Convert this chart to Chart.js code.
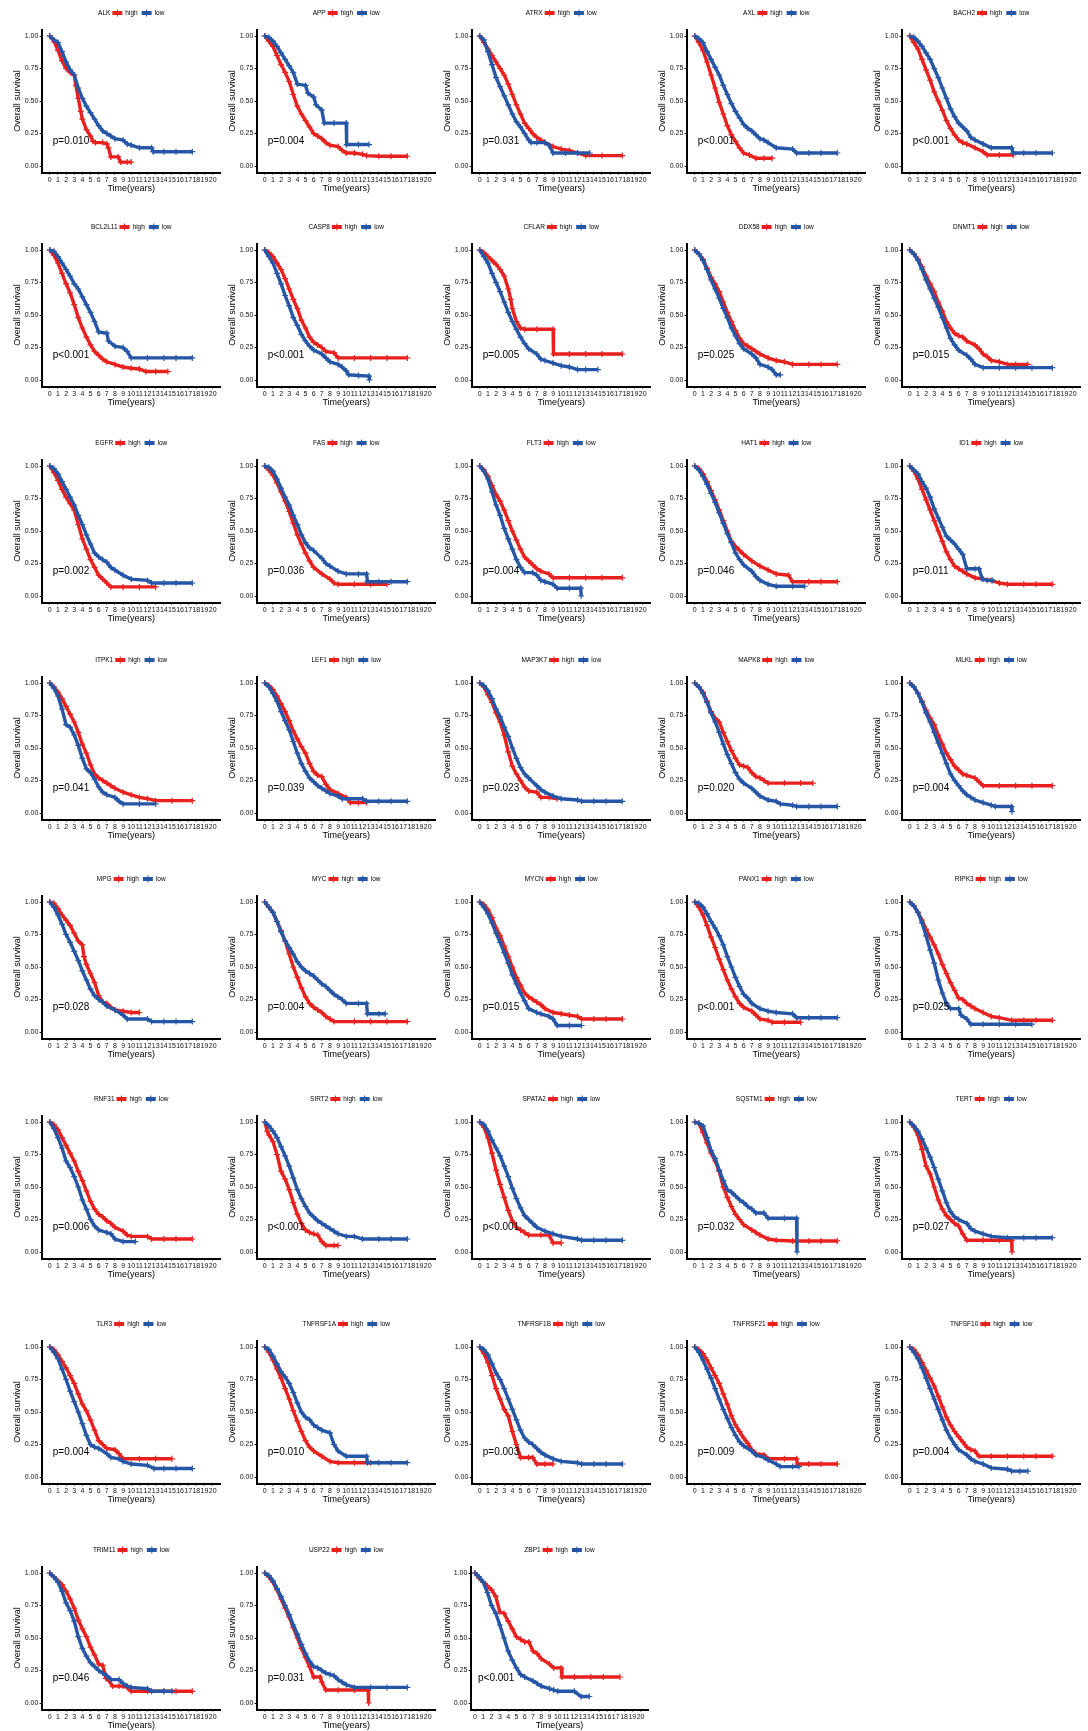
<!DOCTYPE html>
<html>
<head>
<meta charset="utf-8">
<script src="https://cdn.jsdelivr.net/npm/chart.js@4.4.1/dist/chart.umd.min.js"></script>
<style>
  html, body { margin: 0; padding: 0; background: #fff; }
  #grid { position: relative; width: 1088px; height: 1731px; overflow: hidden; }
  #grid canvas { position: absolute; }
</style>
</head>
<body>
<div id="grid"></div>
<script>
// Kaplan-Meier curves: [time (years), survival]
const ALK_high = [[0,1],[0.3,0.98],[0.6,0.95],[1,0.89],[1.5,0.81],[2,0.75],[2.5,0.72],[3,0.70],[3.2,0.62],[3.5,0.52],[3.8,0.42],[4,0.36],[4.5,0.28],[5,0.23],[5.3,0.19],[5.6,0.18],[6.5,0.18],[7,0.17],[7.2,0.14],[7.5,0.07],[8.4,0.07],[8.7,0.03],[9.5,0.03],[10,0.03]];
const ALK_low = [[0,1],[0.5,0.97],[1,0.95],[1.5,0.88],[2,0.80],[2.5,0.74],[3,0.70],[3.5,0.60],[4,0.52],[4.5,0.46],[5,0.41],[5.5,0.36],[6,0.31],[6.5,0.27],[7,0.25],[7.5,0.23],[8,0.21],[9,0.20],[9.5,0.17],[10,0.16],[11,0.14],[12.5,0.14],[12.7,0.11],[14,0.11],[15.5,0.11],[17.5,0.11]];
const APP_high = [[0,1],[0.5,0.96],[1,0.92],[1.5,0.85],[2,0.78],[2.5,0.72],[3,0.65],[3.5,0.55],[4,0.46],[4.5,0.40],[5,0.35],[5.5,0.30],[6,0.25],[6.5,0.23],[7,0.21],[7.5,0.18],[8,0.16],[9,0.15],[9.5,0.12],[10,0.10],[11,0.10],[12,0.09],[12.5,0.08],[14,0.075],[15.5,0.075],[17.5,0.075]];
const APP_low = [[0,1],[0.5,0.99],[1,0.96],[1.5,0.92],[2,0.87],[2.5,0.82],[3,0.77],[3.5,0.72],[4,0.63],[5,0.62],[5.3,0.56],[6,0.53],[6.3,0.47],[7,0.43],[7.3,0.33],[8.5,0.33],[10,0.33],[10.05,0.165],[11.5,0.165],[12.8,0.165]];
const ATRX_high = [[0,1],[0.5,0.95],[1,0.90],[1.5,0.85],[2,0.80],[2.5,0.75],[3,0.70],[3.5,0.63],[4,0.55],[4.5,0.47],[5,0.40],[5.5,0.33],[6,0.29],[6.5,0.25],[7,0.22],[7.5,0.20],[8,0.18],[9,0.15],[10,0.13],[11,0.12],[12,0.10],[13,0.08],[15,0.08],[17.5,0.08]];
const ATRX_low = [[0,1],[0.5,0.97],[1,0.88],[1.5,0.78],[2,0.68],[2.5,0.61],[3,0.54],[3.5,0.47],[4,0.40],[4.5,0.34],[5,0.30],[5.5,0.25],[6,0.20],[6.3,0.18],[7,0.18],[8,0.18],[8.5,0.16],[9,0.10],[10.5,0.10],[12,0.10],[13.5,0.10]];
const AXL_high = [[0,1],[0.5,0.95],[1,0.89],[1.5,0.80],[2,0.70],[2.5,0.60],[3,0.49],[3.5,0.40],[4,0.31],[4.5,0.24],[5,0.19],[5.5,0.14],[6,0.10],[6.7,0.085],[7.5,0.06],[8.5,0.06],[9.5,0.06]];
const AXL_low = [[0,1],[0.5,0.98],[1,0.95],[1.5,0.88],[2,0.82],[2.5,0.76],[3,0.70],[3.5,0.62],[4,0.55],[4.5,0.48],[5,0.42],[5.5,0.37],[6,0.32],[6.5,0.29],[7,0.27],[7.5,0.24],[8,0.21],[8.5,0.20],[9,0.18],[10,0.14],[12,0.13],[12.5,0.10],[14,0.10],[15.5,0.10],[17.5,0.10]];
const BACH2_high = [[0,1],[0.5,0.95],[1,0.90],[1.5,0.82],[2,0.74],[2.5,0.66],[3,0.57],[3.5,0.50],[4,0.43],[4.5,0.35],[5,0.29],[5.5,0.24],[6,0.20],[6.5,0.18],[7,0.17],[8,0.14],[9,0.11],[9.5,0.085],[11,0.085],[12.7,0.085]];
const BACH2_low = [[0,1],[0.5,0.99],[1,0.96],[1.5,0.92],[2,0.87],[2.5,0.82],[3,0.75],[3.5,0.68],[4,0.60],[4.5,0.52],[5,0.44],[5.5,0.38],[6,0.33],[6.5,0.30],[7,0.27],[7.5,0.22],[8,0.20],[9,0.17],[10,0.14],[12.5,0.14],[12.7,0.10],[14,0.10],[15.5,0.10],[17.5,0.10]];
const BCL2L11_high = [[0,1],[0.5,0.96],[1,0.90],[1.5,0.82],[2,0.74],[2.5,0.67],[3,0.58],[3.5,0.48],[4,0.40],[4.5,0.33],[5,0.27],[5.5,0.22],[6,0.19],[6.5,0.16],[7,0.14],[8,0.12],[9,0.10],[10,0.09],[11,0.085],[11.8,0.065],[13,0.065],[14.5,0.065]];
const BCL2L11_low = [[0,1],[0.5,0.99],[1,0.95],[1.5,0.90],[2,0.85],[2.5,0.80],[3,0.74],[3.5,0.70],[4,0.64],[4.5,0.58],[5,0.52],[5.5,0.45],[6,0.37],[7,0.36],[7.2,0.30],[8,0.26],[9,0.25],[9.5,0.22],[10,0.17],[12,0.17],[14,0.17],[15.5,0.17],[17.5,0.17]];
const CASP8_high = [[0,1],[0.5,0.98],[1,0.95],[1.5,0.90],[2,0.85],[2.5,0.78],[3,0.70],[3.5,0.62],[4,0.55],[4.5,0.46],[5,0.40],[5.5,0.33],[6,0.29],[6.5,0.27],[7,0.25],[7.5,0.22],[8.5,0.21],[9,0.17],[11,0.17],[13,0.17],[15,0.17],[17.5,0.17]];
const CASP8_low = [[0,1],[0.5,0.95],[1,0.90],[1.5,0.82],[2,0.74],[2.5,0.65],[3,0.57],[3.5,0.48],[4,0.42],[4.5,0.35],[5,0.30],[5.5,0.26],[6,0.23],[7,0.20],[7.5,0.17],[8,0.14],[9,0.12],[9.5,0.10],[10,0.07],[10.3,0.04],[11.5,0.035],[12.8,0.03],[12.85,0]];
const CFLAR_high = [[0,1],[0.5,0.98],[1,0.95],[1.5,0.92],[2,0.89],[2.5,0.85],[3,0.80],[3.5,0.70],[3.8,0.62],[4,0.55],[4.5,0.45],[5,0.40],[5.5,0.39],[7,0.39],[9,0.39],[9.05,0.20],[11,0.20],[13,0.20],[15,0.20],[17.5,0.20]];
const CFLAR_low = [[0,1],[0.5,0.95],[1,0.90],[1.5,0.82],[2,0.75],[2.5,0.68],[3,0.60],[3.5,0.52],[4,0.45],[4.5,0.39],[5,0.33],[5.5,0.28],[6,0.24],[7,0.20],[7.5,0.16],[8,0.15],[9,0.13],[10,0.11],[11,0.10],[12,0.08],[13,0.08],[14.5,0.08]];
const DDX58_high = [[0,1],[0.5,0.97],[1,0.93],[1.5,0.86],[2,0.79],[2.5,0.74],[3,0.68],[3.5,0.60],[4,0.52],[4.5,0.45],[5,0.38],[5.5,0.32],[6,0.28],[6.5,0.26],[7,0.24],[7.5,0.22],[8,0.20],[9,0.17],[10,0.15],[11,0.14],[12,0.12],[14,0.12],[15.5,0.12],[17.5,0.12]];
const DDX58_low = [[0,1],[0.5,0.97],[1,0.92],[1.5,0.85],[2,0.77],[2.5,0.70],[3,0.63],[3.5,0.55],[4,0.48],[4.5,0.40],[5,0.34],[5.5,0.28],[6,0.24],[7,0.20],[7.5,0.17],[8,0.12],[9,0.10],[9.5,0.08],[10,0.04],[10.5,0.04]];
const DNMT1_high = [[0,1],[0.5,0.97],[1,0.93],[1.5,0.87],[2,0.80],[2.5,0.74],[3,0.68],[3.5,0.60],[4,0.53],[4.5,0.45],[5,0.40],[5.5,0.36],[6,0.34],[6.5,0.33],[7,0.30],[8,0.27],[8.5,0.24],[9,0.20],[9.5,0.18],[10,0.15],[11,0.14],[12,0.12],[13,0.12],[14.5,0.12]];
const DNMT1_low = [[0,1],[0.5,0.97],[1,0.92],[1.5,0.85],[2,0.77],[2.5,0.70],[3,0.63],[3.5,0.56],[4,0.48],[4.5,0.40],[5,0.32],[5.5,0.27],[6,0.23],[7,0.19],[7.5,0.16],[8,0.12],[9,0.095],[11,0.095],[13,0.095],[15,0.095],[17.5,0.095]];
const EGFR_high = [[0,1],[0.5,0.95],[1,0.89],[1.5,0.82],[2,0.76],[2.5,0.71],[3,0.66],[3.5,0.55],[4,0.44],[4.5,0.36],[5,0.28],[5.5,0.22],[6,0.16],[6.5,0.13],[7,0.10],[7.5,0.07],[9,0.07],[11,0.07],[13,0.07]];
const EGFR_low = [[0,1],[0.5,0.98],[1,0.94],[1.5,0.88],[2,0.82],[2.5,0.76],[3,0.70],[3.5,0.62],[4,0.55],[4.5,0.47],[5,0.40],[5.5,0.33],[6,0.30],[6.5,0.28],[7,0.26],[7.5,0.22],[8,0.20],[9,0.16],[10,0.13],[12,0.12],[12.5,0.10],[14,0.10],[15.5,0.10],[17.5,0.10]];
const FAS_high = [[0,1],[0.5,0.97],[1,0.93],[1.5,0.87],[2,0.80],[2.5,0.73],[3,0.65],[3.5,0.56],[4,0.47],[4.5,0.40],[5,0.33],[5.5,0.27],[6,0.22],[7,0.17],[8,0.13],[8.5,0.10],[9,0.09],[11,0.09],[13,0.09],[15,0.09]];
const FAS_low = [[0,1],[0.5,0.99],[1,0.96],[1.5,0.90],[2,0.83],[2.5,0.76],[3,0.70],[3.5,0.62],[4,0.55],[4.5,0.47],[5,0.41],[5.5,0.37],[6,0.35],[7,0.29],[7.5,0.25],[8,0.23],[9,0.19],[10,0.17],[11.5,0.17],[12.5,0.17],[12.6,0.11],[14,0.11],[15.5,0.11],[17.5,0.11]];
const FLT3_high = [[0,1],[0.5,0.97],[1,0.92],[1.5,0.85],[2,0.78],[2.5,0.73],[3,0.66],[3.5,0.58],[4,0.50],[4.5,0.43],[5,0.36],[5.5,0.30],[6,0.27],[6.5,0.24],[7,0.21],[7.5,0.19],[8.5,0.17],[9,0.14],[11,0.14],[13,0.14],[15,0.14],[17.5,0.14]];
const FLT3_low = [[0,1],[0.5,0.96],[1,0.90],[1.5,0.80],[2,0.70],[2.5,0.62],[3,0.52],[3.5,0.44],[4,0.36],[4.5,0.28],[5,0.22],[5.5,0.18],[6.5,0.18],[7,0.16],[7.5,0.12],[8,0.11],[9,0.09],[9.5,0.06],[11,0.06],[12.4,0.06],[12.45,0]];
const HAT1_high = [[0,1],[0.5,0.98],[1,0.94],[1.5,0.88],[2,0.81],[2.5,0.74],[3,0.66],[3.5,0.58],[4,0.50],[4.5,0.42],[5,0.38],[5.5,0.35],[6,0.32],[7,0.27],[8,0.23],[9,0.20],[10,0.17],[11.5,0.16],[12,0.11],[14,0.11],[15.5,0.11],[17.5,0.11]];
const HAT1_low = [[0,1],[0.5,0.97],[1,0.92],[1.5,0.86],[2,0.79],[2.5,0.72],[3,0.64],[3.5,0.56],[4,0.48],[4.5,0.41],[5,0.33],[5.5,0.28],[6,0.24],[7,0.19],[7.5,0.15],[8,0.12],[9,0.09],[10,0.075],[12,0.075],[13.5,0.075]];
const ID1_high = [[0,1],[0.5,0.96],[1,0.90],[1.5,0.82],[2,0.74],[2.5,0.66],[3,0.58],[3.5,0.50],[4,0.42],[4.5,0.34],[5,0.28],[5.5,0.23],[6,0.21],[6.5,0.19],[7,0.17],[8,0.14],[9,0.13],[10,0.12],[11,0.10],[12,0.09],[14,0.09],[15.5,0.09],[17.5,0.09]];
const ID1_low = [[0,1],[0.5,0.97],[1,0.94],[1.5,0.88],[2,0.83],[2.5,0.76],[3,0.67],[3.5,0.60],[4,0.53],[4.5,0.46],[5,0.43],[5.5,0.40],[6,0.36],[6.5,0.32],[7,0.21],[8,0.21],[8.5,0.21],[8.9,0.13],[9.5,0.12],[10.2,0.12]];
const ITPK1_high = [[0,1],[0.5,0.97],[1,0.93],[1.5,0.88],[2,0.82],[2.5,0.76],[3,0.70],[3.5,0.62],[4,0.53],[4.5,0.46],[5,0.37],[5.5,0.30],[6,0.27],[6.5,0.25],[7,0.23],[7.5,0.21],[8,0.19],[9,0.16],[10,0.14],[11,0.12],[12,0.11],[13,0.095],[15,0.095],[17.5,0.095]];
const ITPK1_low = [[0,1],[0.5,0.96],[1,0.90],[1.5,0.80],[2,0.68],[2.5,0.66],[3,0.60],[3.5,0.52],[4,0.42],[4.5,0.34],[5,0.31],[5.5,0.26],[6,0.20],[6.5,0.16],[7,0.14],[8,0.12],[8.5,0.09],[9,0.07],[11,0.07],[13,0.07]];
const LEF1_high = [[0,1],[0.5,0.98],[1,0.95],[1.5,0.90],[2,0.84],[2.5,0.78],[3,0.71],[3.5,0.63],[4,0.57],[4.5,0.51],[5,0.46],[5.5,0.38],[6,0.32],[6.5,0.29],[7,0.28],[7.5,0.22],[8,0.18],[9,0.15],[10,0.12],[10.5,0.08],[11.5,0.08],[12.5,0.08]];
const LEF1_low = [[0,1],[0.5,0.97],[1,0.92],[1.5,0.86],[2,0.78],[2.5,0.71],[3,0.64],[3.5,0.55],[4,0.46],[4.5,0.38],[5,0.32],[5.5,0.27],[6,0.24],[6.5,0.21],[7,0.19],[7.5,0.17],[8,0.15],[9,0.13],[9.5,0.11],[12,0.11],[12.5,0.09],[14,0.09],[15.5,0.09],[17.5,0.09]];
const MAP3K7_high = [[0,1],[0.5,0.97],[1,0.91],[1.5,0.85],[2,0.77],[2.5,0.70],[3,0.60],[3.5,0.47],[4,0.36],[4.5,0.30],[5,0.25],[5.5,0.20],[6,0.17],[7,0.16],[7.5,0.12],[8.5,0.12],[9.5,0.11]];
const MAP3K7_low = [[0,1],[0.5,0.98],[1,0.94],[1.5,0.88],[2,0.80],[2.5,0.74],[3,0.66],[3.5,0.59],[4,0.50],[4.5,0.42],[5,0.35],[5.5,0.30],[6,0.27],[7,0.21],[7.5,0.18],[8,0.16],[9,0.13],[10,0.11],[12,0.10],[12.5,0.09],[14,0.09],[15.5,0.09],[17.5,0.09]];
const MAPK8_high = [[0,1],[0.5,0.97],[1,0.93],[1.5,0.86],[2,0.78],[2.5,0.73],[3,0.70],[3.5,0.62],[4,0.55],[4.5,0.48],[5,0.42],[5.5,0.37],[6,0.36],[6.5,0.35],[7,0.31],[7.5,0.28],[8,0.27],[8.5,0.25],[9,0.23],[11,0.23],[13,0.23],[14.5,0.23]];
const MAPK8_low = [[0,1],[0.5,0.97],[1,0.92],[1.5,0.85],[2,0.77],[2.5,0.70],[3,0.62],[3.5,0.53],[4,0.45],[4.5,0.38],[5,0.31],[5.5,0.26],[6,0.23],[7,0.19],[7.5,0.16],[8,0.13],[9,0.10],[10,0.09],[10.5,0.07],[12,0.06],[12.5,0.05],[14,0.05],[15.5,0.05],[17.5,0.05]];
const MLKL_high = [[0,1],[0.5,0.97],[1,0.92],[1.5,0.86],[2,0.79],[2.5,0.73],[3,0.68],[3.5,0.60],[4,0.53],[4.5,0.46],[5,0.41],[5.5,0.36],[6,0.33],[6.5,0.30],[7,0.29],[8,0.27],[8.5,0.24],[9,0.21],[11,0.21],[13,0.21],[15,0.21],[17.5,0.21]];
const MLKL_low = [[0,1],[0.5,0.97],[1,0.92],[1.5,0.85],[2,0.77],[2.5,0.70],[3,0.62],[3.5,0.54],[4,0.46],[4.5,0.38],[5,0.30],[5.5,0.25],[6,0.21],[6.5,0.17],[7,0.14],[7.5,0.12],[8,0.10],[9,0.08],[10,0.06],[10.5,0.05],[12.5,0.05],[12.55,0.01]];
const MPG_high = [[0,1],[0.5,0.99],[1,0.95],[1.5,0.90],[2,0.86],[2.5,0.82],[3,0.76],[3.5,0.70],[4,0.67],[4.2,0.58],[4.5,0.52],[5,0.45],[5.5,0.38],[6,0.28],[6.5,0.23],[7,0.22],[7.5,0.19],[8,0.17],[9,0.16],[10,0.15],[11,0.15]];
const MPG_low = [[0,1],[0.5,0.96],[1,0.90],[1.5,0.83],[2,0.75],[2.5,0.69],[3,0.62],[3.5,0.55],[4,0.47],[4.5,0.40],[5,0.33],[5.5,0.28],[6,0.25],[6.5,0.23],[7,0.20],[8,0.17],[9,0.13],[9.5,0.10],[12,0.10],[12.5,0.08],[14,0.08],[15.5,0.08],[17.5,0.08]];
const MYC_high = [[0,1],[0.5,0.96],[1,0.92],[1.5,0.85],[2,0.78],[2.5,0.70],[3,0.60],[3.5,0.50],[4,0.42],[4.5,0.34],[5,0.27],[5.5,0.22],[6,0.19],[6.5,0.17],[7,0.15],[7.5,0.12],[8,0.10],[8.5,0.08],[11,0.08],[13,0.08],[15,0.08],[17.5,0.08]];
const MYC_low = [[0,1],[0.5,0.96],[1,0.92],[1.5,0.85],[2,0.77],[2.5,0.70],[3,0.65],[3.5,0.60],[4,0.54],[4.5,0.50],[5,0.47],[5.5,0.45],[6,0.43],[6.5,0.40],[7,0.37],[7.5,0.35],[8,0.32],[8.5,0.29],[9,0.27],[9.5,0.25],[10,0.22],[11.5,0.22],[12.5,0.22],[12.6,0.14],[14,0.14],[14.8,0.14]];
const MYCN_high = [[0,1],[0.5,0.98],[1,0.94],[1.5,0.88],[2,0.80],[2.5,0.74],[3,0.66],[3.5,0.58],[4,0.50],[4.5,0.42],[5,0.36],[5.5,0.30],[6,0.27],[6.5,0.25],[7,0.23],[7.5,0.21],[8,0.18],[9,0.15],[10,0.14],[11,0.13],[12,0.12],[12.5,0.10],[14,0.10],[15.5,0.10],[17.5,0.10]];
const MYCN_low = [[0,1],[0.5,0.96],[1,0.91],[1.5,0.84],[2,0.76],[2.5,0.69],[3,0.61],[3.5,0.53],[4,0.44],[4.5,0.37],[5,0.30],[5.5,0.24],[6,0.18],[7,0.15],[7.5,0.14],[8.5,0.12],[9,0.10],[9.5,0.05],[11,0.05],[12.5,0.05]];
const PANX1_high = [[0,1],[0.5,0.96],[1,0.90],[1.5,0.82],[2,0.73],[2.5,0.65],[3,0.56],[3.5,0.48],[4,0.40],[4.5,0.33],[5,0.27],[5.5,0.22],[6,0.19],[7,0.16],[7.5,0.13],[8,0.10],[9,0.09],[9.5,0.075],[11,0.075],[13,0.075]];
const PANX1_low = [[0,1],[0.5,0.99],[1,0.96],[1.5,0.91],[2,0.85],[2.5,0.80],[3,0.74],[3.5,0.67],[4,0.58],[4.5,0.50],[5,0.42],[5.5,0.35],[6,0.29],[6.5,0.26],[7,0.22],[8,0.18],[9,0.16],[10,0.15],[12,0.14],[12.5,0.11],[14,0.11],[15.5,0.11],[17.5,0.11]];
const RIPK3_high = [[0,1],[0.5,0.97],[1,0.92],[1.5,0.86],[2,0.79],[2.5,0.73],[3,0.67],[3.5,0.60],[4,0.52],[4.5,0.45],[5,0.38],[5.5,0.32],[6,0.26],[6.5,0.25],[7,0.22],[7.5,0.20],[8,0.18],[9,0.15],[10,0.12],[11,0.11],[12.5,0.09],[14,0.09],[15.5,0.09],[17.5,0.09]];
const RIPK3_low = [[0,1],[0.5,0.97],[1,0.92],[1.5,0.84],[2,0.74],[2.5,0.63],[3,0.53],[3.5,0.40],[4,0.30],[4.5,0.22],[5,0.18],[6,0.18],[6.3,0.13],[7,0.10],[7.5,0.06],[9,0.06],[11,0.06],[13,0.06],[15,0.06]];
const RNF31_high = [[0,1],[0.5,0.98],[1,0.94],[1.5,0.88],[2,0.82],[2.5,0.76],[3,0.70],[3.5,0.62],[4,0.55],[4.5,0.47],[5,0.39],[5.5,0.33],[6,0.29],[6.5,0.27],[7,0.24],[7.5,0.22],[8,0.19],[9,0.16],[9.5,0.13],[10,0.12],[12,0.12],[12.5,0.10],[14,0.10],[15.5,0.10],[17.5,0.10]];
const RNF31_low = [[0,1],[0.5,0.95],[1,0.88],[1.5,0.80],[2,0.70],[2.5,0.65],[3,0.58],[3.5,0.50],[4,0.40],[4.5,0.33],[5,0.25],[5.5,0.20],[6,0.17],[7,0.15],[7.5,0.14],[8,0.10],[9,0.08],[10.5,0.08]];
const SIRT2_high = [[0,1],[0.3,0.93],[0.5,0.90],[1,0.85],[1.5,0.75],[2,0.62],[2.5,0.56],[3,0.48],[3.5,0.38],[4,0.29],[4.5,0.22],[5,0.17],[5.5,0.15],[6,0.14],[6.5,0.13],[7,0.08],[7.5,0.05],[8.5,0.05],[9,0.05]];
const SIRT2_low = [[0,1],[0.5,0.97],[1,0.93],[1.5,0.88],[2,0.81],[2.5,0.74],[3,0.66],[3.5,0.57],[4,0.48],[4.5,0.41],[5,0.35],[5.5,0.30],[6,0.27],[6.5,0.24],[7,0.22],[7.5,0.20],[8,0.18],[8.5,0.16],[9,0.14],[10,0.12],[11,0.12],[12,0.10],[14,0.10],[15.5,0.10],[17.5,0.10]];
const SPATA2_high = [[0,1],[0.5,0.96],[1,0.88],[1.5,0.76],[2,0.63],[2.5,0.52],[3,0.42],[3.5,0.32],[4,0.24],[4.5,0.19],[5,0.17],[5.5,0.15],[6,0.13],[7.5,0.13],[8.5,0.13],[9,0.07],[10,0.07]];
const SPATA2_low = [[0,1],[0.5,0.98],[1,0.93],[1.5,0.86],[2,0.80],[2.5,0.74],[3,0.66],[3.5,0.58],[4,0.49],[4.5,0.41],[5,0.34],[5.5,0.28],[6,0.25],[6.5,0.22],[7,0.19],[8,0.16],[9,0.14],[10,0.12],[12,0.10],[12.5,0.09],[14,0.09],[15.5,0.09],[17.5,0.09]];
const SQSTM1_high = [[0,1],[0.5,0.99],[1,0.92],[1.5,0.84],[2,0.76],[2.5,0.70],[3,0.62],[3.5,0.50],[4,0.42],[4.5,0.35],[5,0.29],[5.5,0.25],[6,0.21],[7,0.17],[7.5,0.15],[8,0.13],[9,0.10],[10,0.09],[12,0.085],[14,0.085],[15.5,0.085],[17.5,0.085]];
const SQSTM1_low = [[0,1],[0.5,0.99],[1,0.97],[1.5,0.88],[2,0.78],[2.5,0.72],[3,0.63],[3.5,0.55],[4,0.48],[4.5,0.46],[5,0.43],[5.5,0.40],[6,0.38],[6.5,0.35],[7,0.33],[7.5,0.30],[8.5,0.30],[9,0.26],[11,0.26],[12.5,0.26],[12.55,0]];
const TERT_high = [[0,1],[0.5,0.96],[1,0.90],[1.5,0.79],[2,0.66],[2.5,0.60],[3,0.50],[3.5,0.40],[4,0.33],[4.5,0.28],[5,0.25],[5.5,0.22],[6,0.20],[6.5,0.14],[7,0.09],[9,0.09],[11,0.09],[12.5,0.09],[12.55,0]];
const TERT_low = [[0,1],[0.5,0.97],[1,0.93],[1.5,0.87],[2,0.80],[2.5,0.73],[3,0.65],[3.5,0.56],[4,0.47],[4.5,0.38],[5,0.31],[5.5,0.27],[6,0.25],[7,0.22],[7.5,0.18],[8,0.16],[9,0.14],[10,0.12],[12,0.11],[14,0.11],[15.5,0.11],[17.5,0.11]];
const TLR3_high = [[0,1],[0.5,0.98],[1,0.94],[1.5,0.89],[2,0.84],[2.5,0.78],[3,0.72],[3.5,0.64],[4,0.56],[4.5,0.51],[5,0.44],[5.5,0.36],[6,0.28],[6.5,0.25],[7,0.22],[8,0.21],[8.5,0.18],[9,0.14],[11,0.14],[13,0.14],[15,0.14]];
const TLR3_low = [[0,1],[0.5,0.96],[1,0.91],[1.5,0.83],[2,0.75],[2.5,0.66],[3,0.58],[3.5,0.50],[4,0.41],[4.5,0.32],[5,0.25],[5.5,0.23],[6,0.22],[7,0.18],[7.5,0.15],[8.5,0.14],[9,0.12],[10,0.10],[12,0.09],[12.8,0.065],[14,0.065],[15.5,0.065],[17.5,0.065]];
const TNFRSF1A_high = [[0,1],[0.5,0.96],[1,0.90],[1.5,0.83],[2,0.76],[2.5,0.68],[3,0.60],[3.5,0.51],[4,0.43],[4.5,0.35],[5,0.28],[5.5,0.23],[6,0.20],[7,0.16],[8,0.12],[9,0.11],[11,0.11],[13,0.11]];
const TNFRSF1A_low = [[0,1],[0.5,0.98],[1,0.93],[1.5,0.87],[2,0.81],[2.5,0.77],[3,0.72],[3.5,0.65],[4,0.57],[4.5,0.50],[5,0.46],[5.5,0.44],[6,0.40],[6.5,0.38],[7,0.36],[8,0.34],[8.5,0.25],[9,0.20],[10,0.16],[12.5,0.16],[12.6,0.11],[14,0.11],[15.5,0.11],[17.5,0.11]];
const TNFRSF1B_high = [[0,1],[0.5,0.95],[1,0.88],[1.5,0.78],[2,0.68],[2.5,0.60],[3,0.52],[3.5,0.47],[4,0.35],[4.5,0.25],[5,0.15],[6,0.15],[6.5,0.15],[7,0.10],[8,0.10],[9,0.10]];
const TNFRSF1B_low = [[0,1],[0.5,0.98],[1,0.94],[1.5,0.87],[2,0.80],[2.5,0.75],[3,0.68],[3.5,0.60],[4,0.52],[4.5,0.44],[5,0.36],[5.5,0.30],[6,0.27],[6.5,0.25],[7,0.22],[7.5,0.19],[8,0.17],[9,0.14],[10,0.12],[12,0.11],[12.5,0.10],[14,0.10],[15.5,0.10],[17.5,0.10]];
const TNFRSF21_high = [[0,1],[0.5,0.98],[1,0.95],[1.5,0.90],[2,0.84],[2.5,0.78],[3,0.72],[3.5,0.64],[4,0.56],[4.5,0.47],[5,0.40],[5.5,0.35],[6,0.30],[6.5,0.26],[7,0.21],[7.5,0.18],[8.5,0.17],[9,0.14],[11,0.14],[12.5,0.14],[12.6,0.10],[14,0.10],[15.5,0.10],[17.5,0.10]];
const TNFRSF21_low = [[0,1],[0.5,0.96],[1,0.90],[1.5,0.83],[2,0.76],[2.5,0.68],[3,0.60],[3.5,0.52],[4,0.45],[4.5,0.38],[5,0.32],[5.5,0.27],[6,0.24],[7,0.20],[7.5,0.17],[8.5,0.15],[9,0.13],[10,0.10],[10.5,0.08],[12,0.08],[12.8,0.08]];
const TNFSF10_high = [[0,1],[0.5,0.98],[1,0.94],[1.5,0.88],[2,0.82],[2.5,0.76],[3,0.70],[3.5,0.62],[4,0.54],[4.5,0.46],[5,0.40],[5.5,0.35],[6,0.31],[6.5,0.27],[7,0.23],[7.5,0.21],[8,0.20],[8.5,0.16],[10,0.16],[12,0.16],[14,0.16],[15.5,0.16],[17.5,0.16]];
const TNFSF10_low = [[0,1],[0.5,0.96],[1,0.91],[1.5,0.84],[2,0.76],[2.5,0.68],[3,0.60],[3.5,0.52],[4,0.44],[4.5,0.36],[5,0.30],[5.5,0.25],[6,0.21],[7,0.17],[7.5,0.14],[8,0.12],[9,0.10],[10,0.07],[12,0.06],[12.5,0.045],[13.5,0.045],[14.5,0.045]];
const TRIM11_high = [[0,1],[0.5,0.97],[1,0.94],[1.5,0.91],[2,0.86],[2.5,0.80],[3,0.73],[3.5,0.64],[4,0.57],[4.5,0.51],[5,0.43],[5.5,0.37],[6,0.30],[6.5,0.29],[6.9,0.19],[7.3,0.17],[7.7,0.13],[8.5,0.13],[9,0.13],[9.5,0.12],[10,0.09],[12,0.09],[14,0.09],[15.5,0.09],[17.5,0.09]];
const TRIM11_low = [[0,1],[0.5,0.97],[1,0.93],[1.5,0.86],[2,0.77],[2.5,0.71],[3,0.63],[3.5,0.51],[4,0.42],[4.5,0.36],[5,0.31],[5.5,0.28],[6,0.25],[6.5,0.23],[7,0.21],[7.5,0.18],[8.5,0.18],[9,0.15],[9.5,0.13],[10,0.12],[12,0.11],[12.5,0.09],[14,0.09],[15,0.09]];
const USP22_high = [[0,1],[0.5,0.97],[1,0.93],[1.5,0.87],[2,0.80],[2.5,0.73],[3,0.66],[3.5,0.58],[4,0.50],[4.5,0.42],[5,0.35],[5.5,0.28],[6,0.20],[6.8,0.20],[7,0.16],[7.5,0.10],[9,0.10],[11,0.10],[12.7,0.10],[12.75,0]];
const USP22_low = [[0,1],[0.5,0.98],[1,0.94],[1.5,0.88],[2,0.82],[2.5,0.75],[3,0.68],[3.5,0.60],[4,0.53],[4.5,0.45],[5,0.38],[5.5,0.32],[6,0.28],[6.5,0.27],[7,0.25],[7.5,0.23],[8,0.22],[8.5,0.21],[9,0.18],[9.5,0.16],[10,0.14],[11,0.12],[13,0.12],[15,0.12],[17.5,0.12]];
const ZBP1_high = [[0,1],[0.5,0.96],[1,0.93],[1.5,0.90],[2,0.87],[2.5,0.82],[3,0.70],[3.5,0.69],[4,0.63],[4.5,0.57],[5,0.51],[5.5,0.49],[6,0.47],[6.5,0.47],[7,0.40],[7.5,0.38],[8,0.34],[9,0.30],[9.5,0.27],[10.4,0.27],[10.5,0.20],[12,0.20],[14,0.20],[15.5,0.20],[17.5,0.20]];
const ZBP1_low = [[0,1],[0.5,0.97],[1,0.93],[1.5,0.85],[2,0.75],[2.5,0.69],[3,0.60],[3.5,0.50],[4,0.40],[4.5,0.33],[5,0.27],[5.5,0.22],[6,0.20],[7,0.17],[7.5,0.15],[8,0.13],[9,0.11],[9.5,0.10],[10,0.09],[12,0.09],[12.8,0.05],[13.8,0.05]];

const genes = ['ALK','APP','ATRX','AXL','BACH2','BCL2L11','CASP8','CFLAR','DDX58','DNMT1',
  'EGFR','FAS','FLT3','HAT1','ID1','ITPK1','LEF1','MAP3K7','MAPK8','MLKL',
  'MPG','MYC','MYCN','PANX1','RIPK3','RNF31','SIRT2','SPATA2','SQSTM1','TERT',
  'TLR3','TNFRSF1A','TNFRSF1B','TNFRSF21','TNFSF10','TRIM11','USP22','ZBP1'];
const pValues = ['p=0.010','p=0.004','p=0.031','p<0.001','p<0.001','p<0.001','p<0.001','p=0.005','p=0.025','p=0.015',
  'p=0.002','p=0.036','p=0.004','p=0.046','p=0.011','p=0.041','p=0.039','p=0.023','p=0.020','p=0.004',
  'p=0.028','p=0.004','p=0.015','p<0.001','p=0.025','p=0.006','p<0.001','p<0.001','p=0.032','p=0.027',
  'p=0.004','p=0.010','p=0.003','p=0.009','p=0.004','p=0.046','p=0.031','p<0.001'];
const groups = ['high', 'low'];
const xTicks = [0,1,2,3,4,5,6,7,8,9,10,11,12,13,14,15,16,17,18,19,20];
const yTicks = [0, 0.25, 0.5, 0.75, 1];

const curves = {
  ALK: [ALK_high, ALK_low], APP: [APP_high, APP_low], ATRX: [ATRX_high, ATRX_low],
  AXL: [AXL_high, AXL_low], BACH2: [BACH2_high, BACH2_low], BCL2L11: [BCL2L11_high, BCL2L11_low],
  CASP8: [CASP8_high, CASP8_low], CFLAR: [CFLAR_high, CFLAR_low], DDX58: [DDX58_high, DDX58_low],
  DNMT1: [DNMT1_high, DNMT1_low], EGFR: [EGFR_high, EGFR_low], FAS: [FAS_high, FAS_low],
  FLT3: [FLT3_high, FLT3_low], HAT1: [HAT1_high, HAT1_low], ID1: [ID1_high, ID1_low],
  ITPK1: [ITPK1_high, ITPK1_low], LEF1: [LEF1_high, LEF1_low], MAP3K7: [MAP3K7_high, MAP3K7_low],
  MAPK8: [MAPK8_high, MAPK8_low], MLKL: [MLKL_high, MLKL_low], MPG: [MPG_high, MPG_low],
  MYC: [MYC_high, MYC_low], MYCN: [MYCN_high, MYCN_low], PANX1: [PANX1_high, PANX1_low],
  RIPK3: [RIPK3_high, RIPK3_low], RNF31: [RNF31_high, RNF31_low], SIRT2: [SIRT2_high, SIRT2_low],
  SPATA2: [SPATA2_high, SPATA2_low], SQSTM1: [SQSTM1_high, SQSTM1_low], TERT: [TERT_high, TERT_low],
  TLR3: [TLR3_high, TLR3_low], TNFRSF1A: [TNFRSF1A_high, TNFRSF1A_low], TNFRSF1B: [TNFRSF1B_high, TNFRSF1B_low],
  TNFRSF21: [TNFRSF21_high, TNFRSF21_low], TNFSF10: [TNFSF10_high, TNFSF10_low], TRIM11: [TRIM11_high, TRIM11_low],
  USP22: [USP22_high, USP22_low], ZBP1: [ZBP1_high, ZBP1_low]
};

const RED = '#E8211F';
const BLUE = '#2656A6';
const FONT = '"Liberation Sans", Arial, Helvetica, sans-serif';

// panel placement (page grid is 5 columns, rows are not evenly spaced)
const colLeft = [0, 215, 430, 645, 860];
const rowTop = [0, 214, 430, 647, 866, 1086, 1311, 1537];
const CW = 226, CH = 200;

// the ZBP1 panel has a slightly tighter time axis than the others
const axisFrame = {
  normal: { xMin: -1, xMax: 21, left: 41.65, right: 225.35 },
  ZBP1: { xMin: -0.52, xMax: 20.93, left: 40.7, right: 218.3 }
};

// legend strip and p value, drawn in the chart's own canvas
const panelText = {
  id: 'panelText',
  afterDatasetsDraw(chart, args, opts) {
    const ctx = chart.ctx;
    const xs = chart.scales.x, ys = chart.scales.y;
    ctx.save();
    ctx.fillStyle = '#000';
    ctx.textBaseline = 'middle';
    ctx.textAlign = 'left';
    ctx.font = '10px ' + FONT;
    ctx.fillText(opts.pText, xs.getPixelForValue(0) + 3, ys.getPixelForValue(0.19));

    ctx.font = '6.5px ' + FONT;
    const sw = 10;
    const parts = [opts.gene, groups[0], groups[1]];
    const widths = parts.map(t => ctx.measureText(t).width);
    const total = widths[0] + 2 + sw + 3 + widths[1] + 4 + sw + 3 + widths[2];
    let x = (chart.chartArea.left + chart.chartArea.right) / 2 - total / 2;
    const y = 13;
    ctx.fillText(parts[0], x, y);
    x += widths[0] + 2;
    [RED, BLUE].forEach((c, i) => {
      ctx.fillStyle = c;
      ctx.fillRect(x, y - 2, sw, 4);
      ctx.fillRect(x + sw / 2 - 0.5, y - 3.5, 1, 7);
      x += sw + 3;
      ctx.fillStyle = '#000';
      ctx.fillText(parts[i + 1], x, y);
      x += widths[i + 1] + 4;
    });
    ctx.restore();
  }
};

const grid = document.getElementById('grid');

genes.forEach((gene, i) => {
  const frame = axisFrame[gene] || axisFrame.normal;
  const canvas = document.createElement('canvas');
  canvas.width = CW;
  canvas.height = CH;
  canvas.style.left = colLeft[i % 5] + 'px';
  canvas.style.top = rowTop[Math.floor(i / 5)] + 'px';
  grid.appendChild(canvas);

  const [hi, lo] = curves[gene];
  const mk = (pts, color, order) => ({
    data: pts.map(p => ({x: p[0], y: p[1]})),
    borderColor: color,
    backgroundColor: color,
    borderWidth: 3.4,
    pointStyle: 'cross',
    pointRadius: 3,
    pointBorderWidth: 1.2,
    pointBorderColor: color,
    fill: false,
    tension: 0,
    order: order
  });

  new Chart(canvas, {
    type: 'line',
    data: { datasets: [mk(hi, RED, 1), mk(lo, BLUE, 0)] },
    plugins: [panelText],
    options: {
      responsive: false,
      animation: false,
      events: [],
      layout: { padding: { top: 29.5, left: 0, right: CW - frame.right, bottom: 0 } },
      plugins: {
        legend: { display: false },
        tooltip: { enabled: false },
        panelText: { gene: gene, pText: pValues[i] }
      },
      scales: {
        x: {
          type: 'linear',
          min: frame.xMin,
          max: frame.xMax,
          afterBuildTicks: s => { s.ticks = xTicks.map(v => ({ value: v })); },
          afterFit: s => { s.height = CH - 172.5; },
          ticks: { autoSkip: false, maxRotation: 0, minRotation: 0, padding: 1, color: '#111', font: { size: 7, family: FONT } },
          grid: { display: true, drawOnChartArea: false, drawTicks: true, tickLength: 2, color: '#000', lineWidth: 1 },
          border: { display: true, color: '#000', width: 2 },
          title: { display: true, text: 'Time(years)', color: '#000', font: { size: 9, family: FONT }, padding: { top: 0, bottom: 5.6 } }
        },
        y: {
          type: 'linear',
          min: -0.05,
          max: 1.05,
          afterBuildTicks: s => { s.ticks = yTicks.map(v => ({ value: v })); },
          afterFit: s => { s.width = frame.left; },
          ticks: { padding: 1.3, color: '#111', font: { size: 7, family: FONT }, callback: v => Number(v).toFixed(2) },
          grid: { display: true, drawOnChartArea: false, drawTicks: true, tickLength: 2, color: '#000', lineWidth: 1 },
          border: { display: true, color: '#000', width: 2 },
          title: { display: true, text: 'Overall survival', color: '#000', font: { size: 9, family: FONT }, padding: { top: 12.6, bottom: 0 } }
        }
      }
    }
  });
});
</script>
</body>
</html>
